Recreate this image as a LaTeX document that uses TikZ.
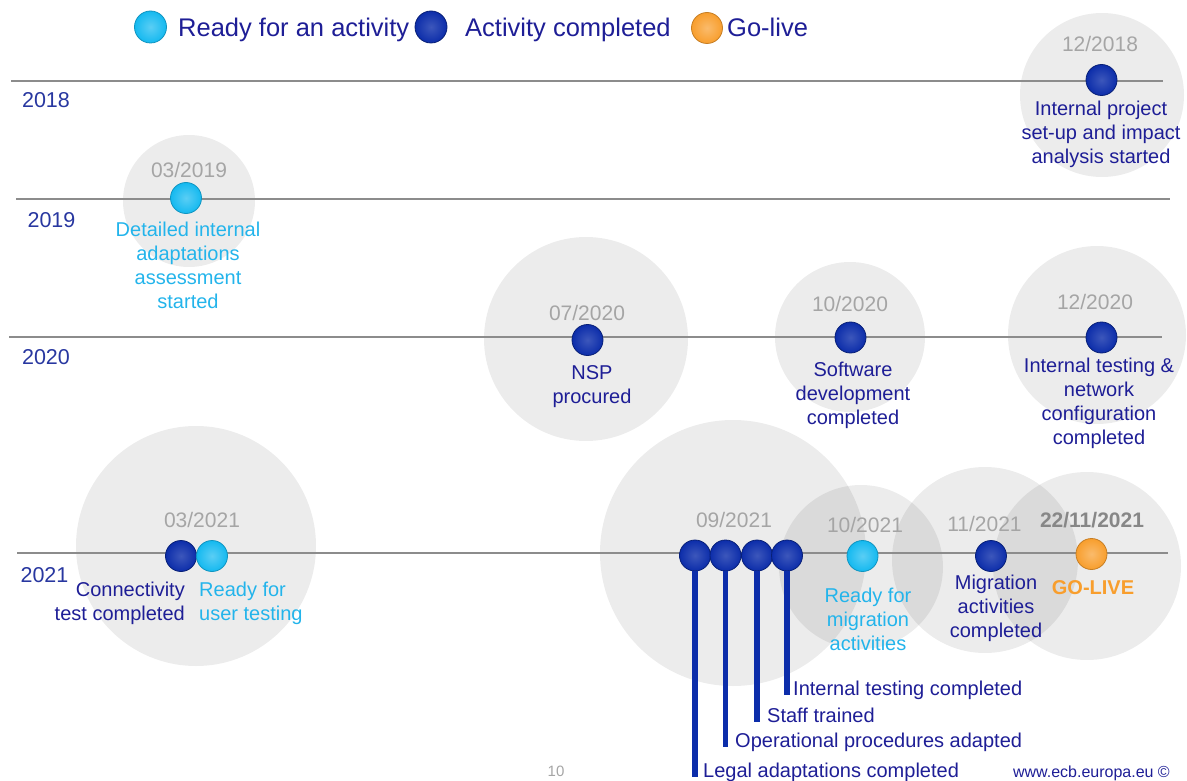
\documentclass[tikz,border=0pt]{standalone}
\usepackage{fontspec}
\setmainfont{Liberation Sans}
\usepackage{tikz}
\usepackage{xcolor}

\definecolor{navy}{RGB}{30,30,150}
\definecolor{yearblue}{RGB}{40,55,160}
\definecolor{skyblue}{RGB}{35,180,235}
\definecolor{ballblue}{RGB}{12,45,170}
\definecolor{ballsky}{RGB}{20,185,240}
\definecolor{goorange}{RGB}{248,158,45}
\definecolor{dategray}{RGB}{165,165,165}
\definecolor{boldgray}{RGB}{135,135,135}
\definecolor{linegray}{RGB}{140,140,140}

\begin{document}
\begin{tikzpicture}[x = 1pt, y = -1pt,
  halo/.style = {fill = black, fill opacity = 0.075},
  tline/.style = {draw = linegray, line width = 2pt},
  stem/.style = {draw = ballblue, line width = 5.5pt},
  bead/.style = {circle, inner sep = 0pt, minimum size = 31pt, shading = radial, line width = 0.8pt},
  done/.style = {bead, inner color = ballblue!80!white, outer color = ballblue, draw = ballblue!70!black},
  ready/.style = {bead, inner color = ballsky!70!white, outer color = ballsky, draw = ballsky!80!black},
  live/.style = {bead, inner color = goorange!70!white, outer color = goorange, draw = goorange!80!black},
  date/.style = {text = dategray, inner sep = 0pt, font = \fontsize{21}{25}\selectfont},
  year/.style = {text = yearblue, inner sep = 0pt, font = \fontsize{21.5}{25}\selectfont},
  lbl/.style = {text = navy, align = center, anchor = north, inner sep = 0pt, font = \fontsize{20}{24}\selectfont},
  skylbl/.style = {lbl, text = skyblue},
  legendtxt/.style = {text = navy, anchor = base west, inner sep = 0pt, font = \fontsize{25.5}{30}\selectfont}]
\useasboundingbox (0, 0) rectangle (1187, 781) ;

% grey halos
\fill[halo] (1102, 95) circle (82pt) ;
\fill[halo] (189, 201) circle (66pt) ;
\fill[halo] (586, 339) circle (102pt) ;
\fill[halo] (850, 337) circle (75pt) ;
\fill[halo] (1097, 335) circle (89pt) ;
\fill[halo] (196, 546) circle (120pt) ;
\fill[halo] (733, 553) circle (133pt) ;
\fill[halo] (861, 567) circle (82pt) ;
\fill[halo] (985, 560) circle (93pt) ;
\fill[halo] (1087, 566) circle (94pt) ;

% year lines
\draw[tline] (11, 81) -- (1163, 81) ;
\draw[tline] (16, 199) -- (1170, 199) ;
\draw[tline] (9, 337) -- (1162, 337) ;
\draw[tline] (17, 553) -- (1168, 553) ;
\node(y18) at (46, 100.5) [year] {2018} ;
\node(y19) at (51.5, 220.5) [year] {2019} ;
\node(y20) at (46, 357.5) [year] {2020} ;
\node(y21) at (44.5, 575) [year] {2021} ;

% legend
\node(keyready) at (150.5, 27) [ready, minimum size = 32pt] {} ;
\node(keyreadytxt) at (178, 37) [legendtxt] {Ready for an activity} ;
\node(keydone) at (431, 27) [done, minimum size = 32pt] {} ;
\node(keydonetxt) at (465, 37) [legendtxt] {Activity completed} ;
\node(keylive) at (707, 28) [live] {} ;
\node(keylivetxt) at (727, 37) [legendtxt] {Go-live} ;

% 2018 and 2019
\node(d1218) at (1100, 43.5) [date] {12/2018} ;
\node(b1218) at (1101.5, 80) [done] {} ;
\node(setup) at (1101, 100.5) [lbl] {Internal project\\set-up and impact\\analysis started} ;
\node(d0319) at (189, 169.5) [date] {03/2019} ;
\node(b0319) at (186, 198) [ready] {} ;
\node(assess) at (188, 221.5) [skylbl] {Detailed internal\\adaptations\\assessment\\started} ;

% 2020
\node(d0720) at (587, 312.5) [date] {07/2020} ;
\node(b0720) at (587.5, 340) [done] {} ;
\node(nsp) at (592, 365) [lbl] {NSP\\procured} ;
\node(d1020) at (850, 303.5) [date] {10/2020} ;
\node(b1020) at (850.5, 337.5) [done] {} ;
\node(soft) at (853, 362) [lbl] {Software\\development\\completed} ;
\node(d1220) at (1095, 301.5) [date] {12/2020} ;
\node(b1220) at (1101.5, 337.5) [done] {} ;
\node(nettest) at (1099, 358) [lbl] {Internal testing \&\\network\\configuration\\completed} ;

% 2021
\node(d0321) at (202, 519.5) [date] {03/2021} ;
\node(b0321a) at (181, 556) [done] {} ;
\node(b0321b) at (212, 556) [ready] {} ;
\node(conn) at (185, 582) [lbl, anchor = north east, align = right] {Connectivity\\test completed} ;
\node(usertest) at (199, 582) [skylbl, anchor = north west, align = left] {Ready for\\user testing} ;
\node(d0921) at (734, 519.5) [date] {09/2021} ;
\node(s1) at (695, 555.5) [done] {} ;
\node(s2) at (725.5, 555.5) [done] {} ;
\node(s3) at (757, 555.5) [done] {} ;
\node(s4) at (787, 555.5) [done] {} ;
\node(d1021) at (865, 524.5) [date] {10/2021} ;
\node(b1021) at (862.5, 556) [ready] {} ;
\node(readymig) at (868, 588) [skylbl] {Ready for\\migration\\activities} ;
\node(d1121) at (984.5, 524) [date] {11/2021} ;
\node(b1121) at (991, 556) [done] {} ;
\node(migdone) at (996, 575) [lbl] {Migration\\activities\\completed} ;
\node(dlive) at (1092, 520.5) [date, text = boldgray, font = \fontsize{21}{25}\selectfont\bfseries] {22/11/2021} ;
\node(blive) at (1091.5, 554) [live] {} ;
\node(golive) at (1093, 580) [lbl, text = goorange, font = \fontsize{20}{24}\selectfont\bfseries] {GO-LIVE} ;

% September 2021 activities
\node(intdone) at (793, 695) [lbl, anchor = base west] {Internal testing completed} ;
\node(staff) at (767, 722) [lbl, anchor = base west] {Staff trained} ;
\node(oper) at (735, 747) [lbl, anchor = base west] {Operational procedures adapted} ;
\node(legal) at (703, 777) [lbl, anchor = base west] {Legal adaptations completed} ;
\draw[stem] (s1) -- (s1 |- legal.base) ;
\draw[stem] (s2) -- (s2 |- oper.base) ;
\draw[stem] (s3) -- (s3 |- staff.base) ;
\draw[stem] (s4) -- (s4 |- intdone.base) ;

% footer
\node(page) at (556, 771) [text = dategray, inner sep = 0pt, font = \fontsize{15}{18}\selectfont] {10} ;
\node(site) at (1170, 777) [text = navy, anchor = base east, inner sep = 0pt, font = \fontsize{16}{19}\selectfont] {www.ecb.europa.eu \textcopyright} ;
\end{tikzpicture}
\end{document}
